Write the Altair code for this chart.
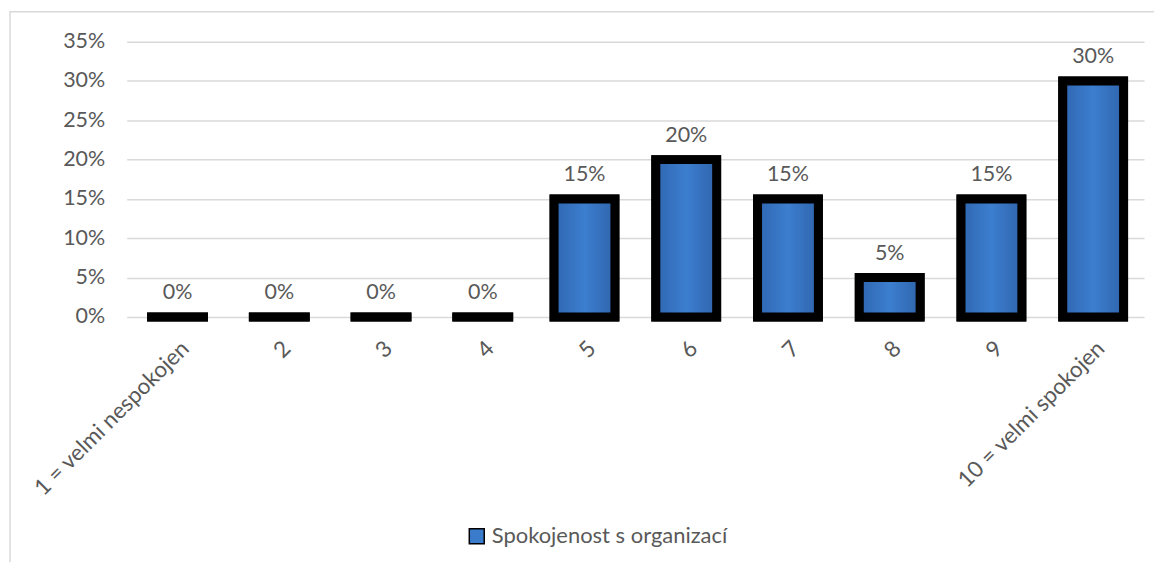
import altair as alt
import pandas as pd

categories = ["1 = velmi nespokojen", "2", "3", "4", "5", "6", "7", "8", "9", "10 = velmi spokojen"]
values = [0.0, 0.0, 0.0, 0.0, 0.15, 0.20, 0.15, 0.05, 0.15, 0.30]
series_name = "Spokojenost s organizací"
y_ticks = [0, 0.05, 0.10, 0.15, 0.20, 0.25, 0.30, 0.35]

df = pd.DataFrame({"kat": categories, "hodnota": values, "serie": [series_name] * len(values)})

FONT = "Lato"
GREY = "#595959"
FS = 21.5

x_enc = alt.X(
    "kat:N",
    sort=categories,
    scale=alt.Scale(paddingInner=0.4, paddingOuter=0.2),
    axis=alt.Axis(
        title=None, labelAngle=-45, labelAlign="right", labelBaseline="top",
        labelPadding=20, ticks=False, domain=False, labelFontSize=22.5,
        labelColor=GREY, labelFont=FONT, labelOverlap=False, labelLimit=400,
    ),
)
y_enc = alt.Y(
    "hodnota:Q",
    scale=alt.Scale(domain=[0, 0.35], nice=False),
    axis=alt.Axis(
        title=None, values=y_ticks, format=".0%", ticks=False, domain=False,
        labelPadding=22, labelFontSize=FS, labelColor=GREY, labelFont=FONT,
        gridColor="#d9d9d9", gridWidth=1.5,
    ),
)

frame = alt.Chart(df).mark_rect(
    fillOpacity=0, stroke="#d9d9d9", strokeWidth=1.5, clip=False
).encode(
    x=alt.value(-117), x2=alt.value(1045), y=alt.value(-30), y2=alt.value(600)
).transform_filter(alt.datum.kat == categories[0])

bars_legend = alt.Chart(df).mark_bar(size=61, stroke="black", strokeWidth=9).encode(
    x=x_enc,
    y=y_enc,
    color=alt.Color(
        "serie:N",
        scale=alt.Scale(domain=[series_name], range=["#3b7bcb"]),
        legend=alt.Legend(
            title=None, orient="none", legendX=340, legendY=485, padding=0,
            symbolType="square", symbolSize=225, symbolStrokeColor="black",
            symbolStrokeWidth=1.5, labelFont=FONT, labelFontSize=22,
            labelColor=GREY, labelOffset=4, labelLimit=400,
        ),
    ),
)

bars_grad = alt.Chart(df).mark_bar(
    size=61, stroke="black", strokeWidth=9,
    fill=alt.Gradient(
        gradient="linear",
        stops=[
            alt.GradientStop(color="#2f66b0", offset=0),
            alt.GradientStop(color="#3c7ecf", offset=0.5),
            alt.GradientStop(color="#2f64ac", offset=1),
        ],
        x1=0, x2=1, y1=0, y2=0,
    ),
).encode(x=x_enc, y=y_enc)

labels = alt.Chart(df).mark_text(
    baseline="alphabetic", dy=-18, fontSize=FS, color=GREY, font=FONT
).encode(
    x=x_enc, y=y_enc, text=alt.Text("hodnota:Q", format=".0%")
)

chart = alt.layer(frame, bars_legend, bars_grad, labels).properties(
    width=1020, height=276,
    autosize=alt.AutoSizeParams(type="none"),
    padding={"left": 119, "top": 33, "right": 10, "bottom": 245},
).configure_view(stroke=None)

chart.save("out.html", embed_options={"renderer": "svg", "actions": False})
